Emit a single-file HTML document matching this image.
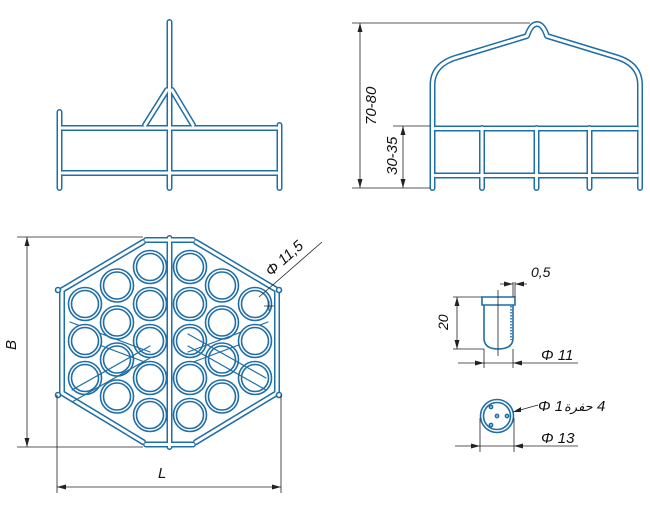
<!DOCTYPE html>
<html><head><meta charset="utf-8"><style>
html,body{margin:0;padding:0;background:#fff}
svg{display:block}
text{font-family:"Liberation Sans","DejaVu Sans",sans-serif;font-style:italic;fill:#111}
</style></head><body>
<svg width="650" height="508" viewBox="0 0 650 508" xmlns="http://www.w3.org/2000/svg">
<defs>
<g id="tubes">
  <path d="M59.5 112V188M169.5 22V188M279.5 125V188M62 128H277M62 173H277M167 90L145 125M172 90L193 125"/>
  <path d="M432.5 188V85Q432.5 64 458 57L527 36Q531 24 537 24Q543 24 547 36L616 57Q640 64 640 85V188"/>
  <path d="M435 128.5H637M435 175.5H637M482 128V188M536.5 128V188M589.5 128V188"/>
  <path d="M146 240H193M146 444.5H193M169.5 238V447"/>
  <path d="M143 242L62 290V393L143 442M196 242L277 290V393L196 442"/>
</g>
<g id="diag">
  <path d="M70 322L150 352M70 334L150 364M72 390L150 346M72 402L150 358M188 352L268 322M188 364L268 334M188 346L266 390M188 334L266 378"/>
</g>
</defs>
<g fill="none" stroke-linecap="round" stroke-linejoin="round">
<use href="#tubes" stroke="#1f6ea6" stroke-width="6"/>
<use href="#tubes" stroke="#fff" stroke-width="3"/>
<use href="#diag" stroke="#1f6ea6" stroke-width="1.2"/>
</g>
<g fill="none" stroke="#1f6ea6" stroke-width="1.6">
<g id="col3">
<circle cx="150" cy="267" r="16.5" fill="#fff"/><circle cx="150" cy="267" r="13.5"/>
<circle cx="150" cy="304" r="16.5" fill="#fff"/><circle cx="150" cy="304" r="13.5"/>
<circle cx="150" cy="341" r="16.5"/><circle cx="150" cy="341" r="13.5"/>
<circle cx="150" cy="378" r="16.5" fill="#fff"/><circle cx="150" cy="378" r="13.5"/>
<circle cx="150" cy="415" r="16.5" fill="#fff"/><circle cx="150" cy="415" r="13.5"/>
</g>
<use href="#col3" x="40"/>
<g id="col2">
<circle cx="117" cy="285.5" r="16.5" fill="#fff"/><circle cx="117" cy="285.5" r="13.5"/>
<circle cx="117" cy="322.5" r="16.5"/><circle cx="117" cy="322.5" r="13.5"/>
<circle cx="117" cy="359.5" r="16.5"/><circle cx="117" cy="359.5" r="13.5"/>
<circle cx="117" cy="396.5" r="16.5" fill="#fff"/><circle cx="117" cy="396.5" r="13.5"/>
</g>
<use href="#col2" x="105"/>
<g id="col1">
<circle cx="85" cy="304" r="16.5"/><circle cx="85" cy="304" r="13.5"/>
<circle cx="85" cy="341" r="16.5" fill="#fff"/><circle cx="85" cy="341" r="13.5"/>
<circle cx="85" cy="378" r="16.5"/><circle cx="85" cy="378" r="13.5"/>
</g>
<use href="#col1" x="170"/>
<circle cx="58" cy="290" r="2.5" fill="#fff"/><circle cx="58" cy="395" r="2.5" fill="#fff"/>
<circle cx="279" cy="290" r="2.5" fill="#fff"/><circle cx="279" cy="395" r="2.5" fill="#fff"/>
<path d="M482 297H515V305H482Z M484 305V338Q484 349 498 349Q513 349 513 338V305"/>
<path d="M511 306V340" stroke-dasharray="1.5 1.5"/>
<circle cx="497" cy="416" r="16.5"/><circle cx="497" cy="416" r="13.5"/>
<circle cx="491" cy="407" r="1.6"/><circle cx="497" cy="416" r="1.6"/><circle cx="507" cy="416" r="1.6"/><circle cx="491" cy="425" r="1.6"/>
</g>
<g stroke="#222" stroke-width="0.8" fill="none">
<path d="M352 23H530M352 188H430M360 23V188M393 126H430M403 126V188"/>
<path d="M17 237H143M17 447H143M27 237V447M57 395V493M281 395V493M57 487H281"/>
<path d="M259 297L322 242"/>
<path d="M264 306H274M269 301V311" stroke-width="0.7"/>
<path d="M498 290V356M453 297H482M453 349H484M457 297V349M484 349V368M513 349V368M458 363H578"/>
<path d="M513 282V297M515 282V297M500 284H513M515 284H527"/>
<path d="M480 418V452M514 418V452M455 446H578M513 412L538 405"/>
</g>
<g fill="#222">
<path d="M360 23l-2.5 9h5zM360 188l-2.5-9h5zM403 126l-2.5 9h5zM403 188l-2.5-9h5z"/>
<path d="M27 237l-2.5 9h5zM27 447l-2.5-9h5zM57 487l9-2.5v5zM281 487l-9-2.5v5z"/>
<path d="M457 297l-2.5 9h5zM457 349l-2.5-9h5zM484 363l-9-2.5v5zM513 363l9-2.5v5zM513 284l-9-2.5v5zM515 284l9-2.5v5z"/>
<path d="M480 446l-9-2.5v5zM514 446l9-2.5v5zM513 412l8-5v5z"/>
</g>
<g font-size="15">
<text transform="translate(376 125) rotate(-90)">70-80</text>
<text transform="translate(397 175) rotate(-90)">30-35</text>
<text transform="translate(16 350) rotate(-90)">B</text>
<text x="158" y="478">L</text>
<text transform="translate(271 277) rotate(-42)">Φ 11,5</text>
<text transform="translate(448 330) rotate(-90)" font-size="14">20</text>
<text x="531" y="277" font-size="14">0,5</text>
<text x="541" y="360">Φ 11</text>
<text x="538" y="411">Φ 1</text>
<text x="564" y="411" font-family="'DejaVu Sans',sans-serif" font-size="13" font-style="normal">حفرة</text>
<text x="597" y="411">4</text>
<text x="541" y="443">Φ 13</text>
</g>
</svg>
</body></html>
